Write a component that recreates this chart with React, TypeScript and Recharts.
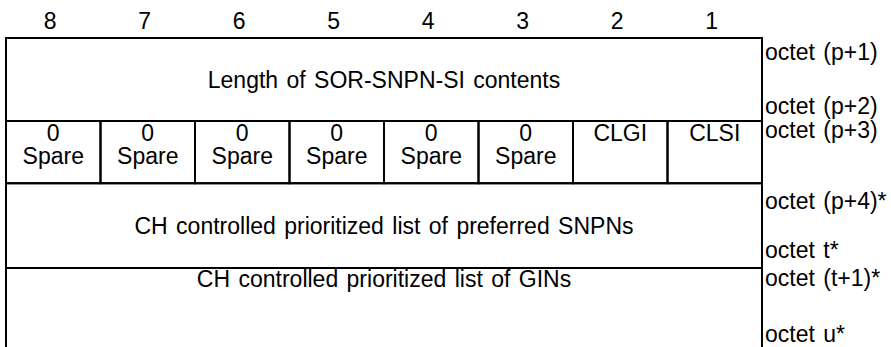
import { ComposedChart, ReferenceArea, XAxis, YAxis } from "recharts"

// bit columns, left to right
const bitNumbers = [8, 7, 6, 5, 4, 3, 2, 1]

// one entry per field of the IE; rows are measured in text lines from the top
const fieldLabels = [
  "Length of SOR-SNPN-SI contents",
  "0\nSpare",
  "0\nSpare",
  "0\nSpare",
  "0\nSpare",
  "0\nSpare",
  "0\nSpare",
  "CLGI",
  "CLSI",
  "CH controlled prioritized list of preferred SNPNs",
  "CH controlled prioritized list of GINs",
]
const fieldHighBit = [8, 8, 7, 6, 5, 4, 3, 2, 1, 8, 8]
const fieldLowBit = [1, 8, 7, 6, 5, 4, 3, 2, 1, 1, 1]
const fieldRowTop = [0, 4, 4, 4, 4, 4, 4, 4, 4, 7, 11.08]
const fieldRowBottom = [4, 7, 7, 7, 7, 7, 7, 7, 7, 11.08, 16]
const fieldAlign = ["middle", "top", "top", "top", "top", "top", "top", "top", "top", "middle", "top"]

// octet markers on the right, placed at their text line
const octetLabels = [
  "octet (p+1)",
  "octet (p+2)",
  "octet (p+3)",
  "octet (p+4)*",
  "octet t*",
  "octet (t+1)*",
  "octet u*",
]
const octetPos = [1.04, 3.67, 4.84, 8.22, 10.6, 11.95, 14.66]

const FONT = "'Liberation Sans', Arial, sans-serif"
const FS = 23

const textStyle = { fontFamily: FONT, fontSize: FS, fill: "#000", wordSpacing: 2 }

function BitTick(props: any) {
  const { x, y, payload } = props
  return (
    <text x={x - 3} y={y} textAnchor="middle" style={textStyle}>
      {payload.value}
    </text>
  )
}

function OctetTick(props: any) {
  const { x, y, payload } = props
  const i = octetPos.indexOf(payload.value)
  return (
    <text x={x} y={y} textAnchor="start" style={textStyle}>
      {octetLabels[i]}
    </text>
  )
}

function cellLabel(text: string, align: string) {
  return (props: any) => {
    const vb = props.viewBox
    if (!vb) return null
    const lines = text.split("\n")
    const cx = vb.x + vb.width / 2
    const first =
      align === "top" ? vb.y + 19.5 : vb.y + vb.height / 2 - ((lines.length - 1) * 23.5) / 2 + FS * 0.36
    return (
      <text textAnchor="middle" style={textStyle}>
        {lines.map((l, k) => (
          <tspan key={k} x={cx} y={first + k * 23.5}>
            {l}
          </tspan>
        ))}
      </text>
    )
  }
}

export default function App() {
  const data = bitNumbers.map((b) => ({ bit: b }))
  return (
    <div
      style={{
        position: "absolute",
        left: 0,
        top: 0,
        width: 891,
        height: 347,
        overflow: "hidden",
        background: "#fff",
      }}
    >
      <ComposedChart width={891} height={370} data={data} margin={{ top: 0, right: 0, bottom: 0, left: 6 }}>
        <XAxis
          dataKey="bit"
          type="number"
          orientation="top"
          domain={[0.5, 8.5]}
          ticks={bitNumbers}
          interval={0}
          reversed
          height={38}
          axisLine={false}
          tickLine={false}
          tickSize={0}
          tickMargin={9.5}
          tick={<BitTick />}
        />
        <YAxis
          type="number"
          orientation="right"
          domain={[0, 16]}
          ticks={octetPos}
          interval={0}
          reversed
          allowDataOverflow
          width={129}
          axisLine={false}
          tickLine={false}
          tickSize={0}
          tickMargin={3}
          tick={<OctetTick />}
        />
        {fieldLabels.map((label, i) => (
          <ReferenceArea
            key={i}
            x1={fieldHighBit[i] + 0.5}
            x2={fieldLowBit[i] - 0.5}
            y1={fieldRowTop[i]}
            y2={fieldRowBottom[i]}
            fill="#fff"
            fillOpacity={0}
            stroke="#000"
            strokeWidth={2}
            strokeOpacity={1}
            ifOverflow="visible"
            label={cellLabel(label, fieldAlign[i])}
          />
        ))}
      </ComposedChart>
    </div>
  )
}
